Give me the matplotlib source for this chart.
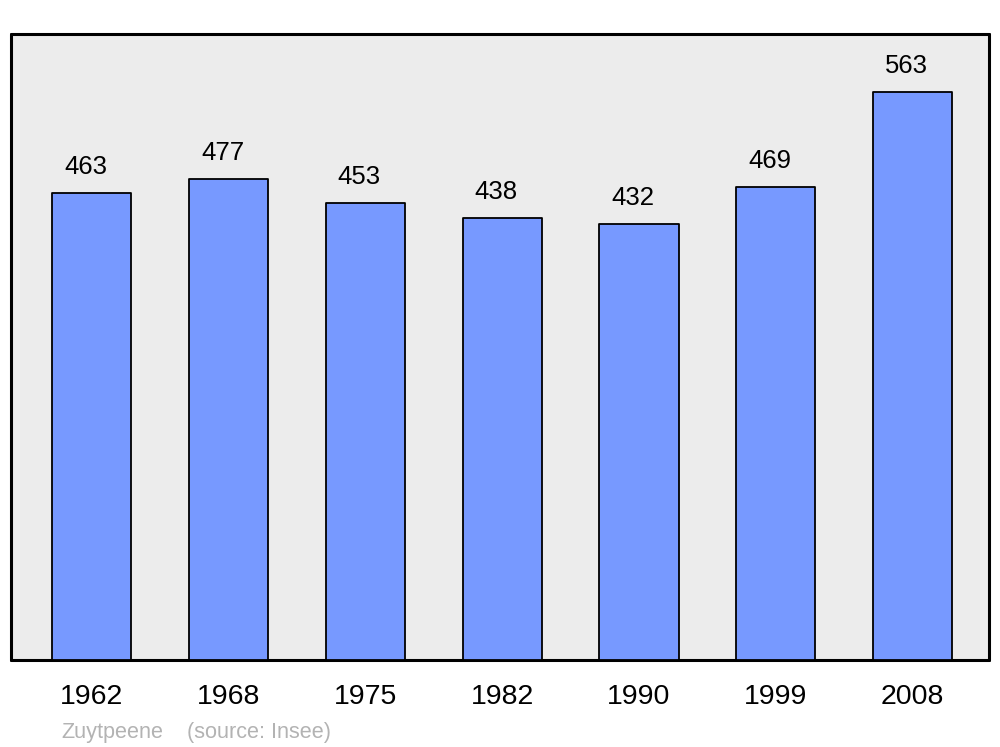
import matplotlib
matplotlib.use("Agg")
import matplotlib.pyplot as plt

years = ["1962", "1968", "1975", "1982", "1990", "1999", "2008"]
population = [463, 477, 453, 438, 432, 469, 563]
commune = "Zuytpeene"
source = "(source: Insee)"

plt.rcParams['font.family'] = ['Liberation Sans', 'DejaVu Sans']

fig = plt.figure(figsize=(10, 7.47), dpi=100)
ax = fig.add_axes([0.011, 1 - 660 / 747, 0.978, (660 - 34) / 747])
ax.set_facecolor('#ececec')

x = list(range(len(years)))
bars = ax.bar(x, population, width=0.578, color='#7799ff', edgecolor='black',
              linewidth=1.3, zorder=3)
for b in bars:
    b.set_joinstyle('round')

ax.set_xlim(-0.592, 6.559)
ax.set_ylim(0, 620.5)
ax.set_yticks([])
ax.set_xticks(x)
ax.set_xticklabels(years, fontsize=20.5)
ax.tick_params(axis='x', length=0, pad=17)
for lbl in ax.get_xticklabels():
    lbl.set_x(lbl.get_position()[0])

for xi, v in zip(x, population):
    ax.annotate(str(v), (xi, v), xytext=(-4.5, 10), textcoords='offset points',
                ha='center', va='bottom', fontsize=18.5)

for s in ax.spines.values():
    s.set_linewidth(2.2)
    s.set_capstyle('round')
    s.set_joinstyle('round')

fig.text(0.061, 1 - 738 / 747, commune, fontsize=15.6, color='#b3b3b3', va='baseline')
fig.text(0.187, 1 - 738 / 747, source, fontsize=15.6, color='#b3b3b3', va='baseline')

fig.savefig('out.png', dpi=100, facecolor='white')
